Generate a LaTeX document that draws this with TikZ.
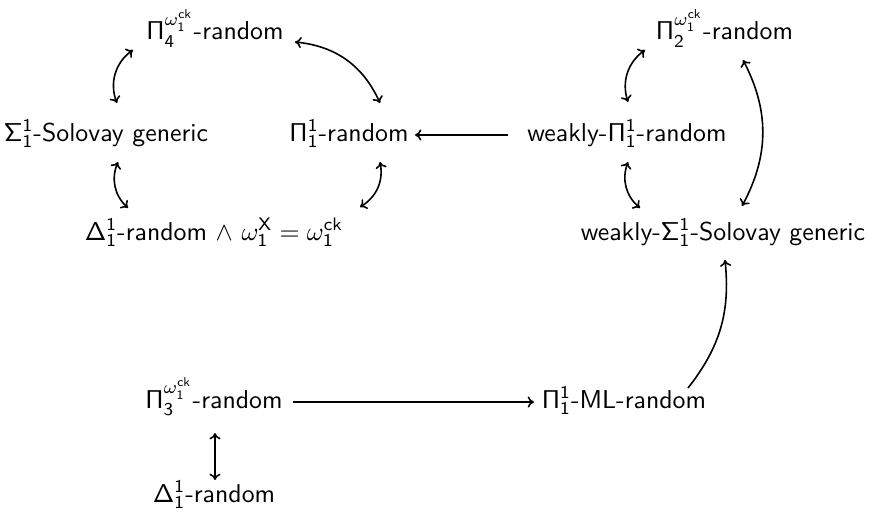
\documentclass[tikz,border=0pt]{standalone}
\usetikzlibrary{arrows.meta}
\newcommand{\myck}{\omega_{\mathsf{1}}^{\mathsf{ck}}}
\newcommand{\myone}{^{\mathsf{1}}_{\mathsf{1}}}
\newcommand{\lbltext}[1]{\scalebox{1.29}{\sffamily #1}}
\begin{document}
\begin{tikzpicture}[x=0.5pt,y=-0.5pt,
  lbl/.style={anchor=base,inner sep=0pt},
  conn/.style={line width=0.8pt,-{Computer Modern Rightarrow[length=3.2pt,width=5.6pt]}},
  biconn/.style={line width=0.8pt,{Computer Modern Rightarrow[length=3.2pt,width=5.6pt]}-{Computer Modern Rightarrow[length=3.2pt,width=5.6pt]}}]
\useasboundingbox (0,0) rectangle (872,519);
\node[lbl] (p4) at (215,40) {\lbltext{$\mathsf{\Pi}^{\myck}_{\mathsf{4}}$-random}};
\node[lbl] (sig) at (106,141) {\lbltext{$\mathsf{\Sigma}\myone$-Solovay generic}};
\node[lbl] (p1) at (349,141) {\lbltext{$\mathsf{\Pi}\myone$-random}};
\node[lbl] (wp) at (627,141) {\lbltext{weakly-$\mathsf{\Pi}\myone$-random}};
\node[lbl] (p2) at (724.5,40) {\lbltext{$\mathsf{\Pi}^{\myck}_{\mathsf{2}}$-random}};
\node[lbl] (dw) at (214,240) {\lbltext{$\mathsf{\Delta}\myone$-random $\wedge$ $\omega_{\mathsf{1}}^{\mathsf{X}} = \myck$}};
\node[lbl] (ws) at (723,240) {\lbltext{weakly-$\mathsf{\Sigma}\myone$-Solovay generic}};
\node[lbl] (p3) at (214,408) {\lbltext{$\mathsf{\Pi}^{\myck}_{\mathsf{3}}$-random}};
\node[lbl] (ml) at (624,408) {\lbltext{$\mathsf{\Pi}\myone$-ML-random}};
\node[lbl] (d1) at (214,502) {\lbltext{$\mathsf{\Delta}\myone$-random}};

\draw[biconn] ([shift={(11,-38)}]sig.base) to[bend left=38] ([shift={(-82,10)}]p4.base);
\draw[biconn] ([shift={(80,2)}]p4.base) to[bend left=30] ([shift={(31,-38)}]p1.base);
\draw[biconn] ([shift={(12,21)}]sig.base) to[bend right=35] ([shift={(-86,-32)}]dw.base);
\draw[biconn] ([shift={(31,21)}]p1.base) to[bend left=35] ([shift={(146,-33)}]dw.base);
\draw[conn] ([shift={(-119,-6)}]wp.base) -- ([shift={(66,-6)}]p1.base);
\draw[biconn] ([shift={(1,-39)}]wp.base) to[bend left=36] ([shift={(-79.5,10)}]p2.base);
\draw[biconn] ([shift={(1,21)}]wp.base) to[bend right=35] ([shift={(-83,-32)}]ws.base);
\draw[biconn] ([shift={(19,-34)}]ws.base) to[bend right=28] ([shift={(18.5,20)}]p2.base);
\draw[conn] ([shift={(64,-20)}]ml.base) to[bend right=22] ([shift={(2,20)}]ws.base);
\draw[conn] ([shift={(79,-6)}]p3.base) -- ([shift={(-90,-6)}]ml.base);
\draw[biconn] ([shift={(1,25)}]p3.base) -- ([shift={(1,-22)}]d1.base);
\end{tikzpicture}
\end{document}
